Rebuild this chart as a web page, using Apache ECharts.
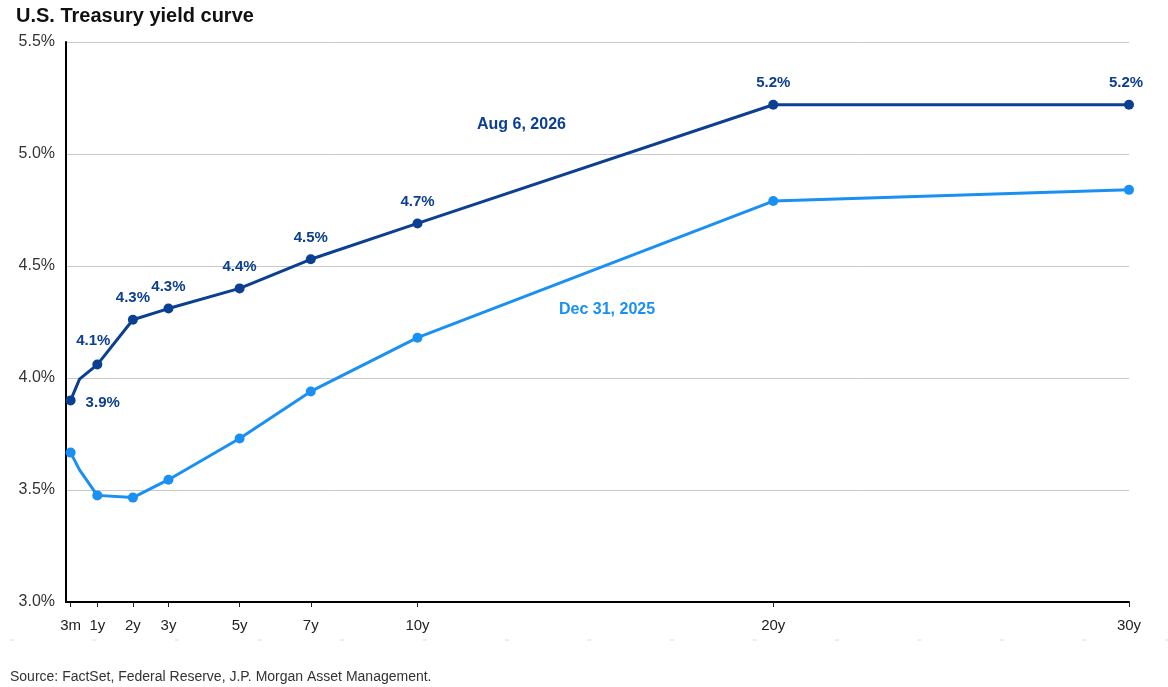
<!DOCTYPE html>
<html>
<head>
<meta charset="utf-8">
<script src="https://cdn.jsdelivr.net/npm/echarts@6/dist/echarts.min.js"></script>
<style>
html,body{margin:0;padding:0;background:#fff;}
#c{width:1168px;height:687px;}
</style>
</head>
<body>
<div id="c"></div>
<script>
// Maturities (years) and their tick labels
const maturities = [0.25, 0.5, 1, 2, 3, 5, 7, 10, 20, 30];
const tickValues = [0.25, 1, 2, 3, 5, 7, 10, 20, 30];
const tickLabels = ['3m', '1y', '2y', '3y', '5y', '7y', '10y', '20y', '30y'];
// Yields (%)
const aug2026 = [3.90, 3.995, 4.06, 4.26, 4.31, 4.40, 4.53, 4.69, 5.22, 5.22];
const dec2025 = [3.667, 3.59, 3.476, 3.466, 3.546, 3.73, 3.94, 4.18, 4.79, 4.84];
const seriesNames = ['Aug 6, 2026', 'Dec 31, 2025'];

const DARK = '#0b3f92';
const LIGHT = '#1a90f2';
const FONT = '"Liberation Sans", Arial, sans-serif';

const chart = echarts.init(document.getElementById('c'));

function darkData() {
  return maturities.map((m, i) => {
    const item = { value: [m, aug2026[i]] };
    if (m === 0.5) {
      item.symbolSize = 0;
      item.label = { show: false };
    } else if (m === 0.25) {
      item.label = { position: 'right', distance: 10, offset: [0, 2] };
    } else if (m === 1) {
      item.label = { offset: [-4, -2] };
    } else if (m === 30) {
      item.label = { offset: [-3, 0] };
    }
    return item;
  });
}
function lightData() {
  return maturities.map((m, i) => {
    const item = { value: [m, dec2025[i]] };
    if (m === 0.5) item.symbolSize = 0;
    return item;
  });
}

const tickLabelMap = {};
tickValues.forEach((v, i) => tickLabelMap[v] = tickLabels[i]);

chart.setOption({
  animation: false,
  backgroundColor: '#fff',
  textStyle: { fontFamily: FONT },
  title: {
    text: 'U.S. Treasury yield curve',
    left: 11, top: 1,
    textStyle: { fontFamily: FONT, fontSize: 20, fontWeight: 'bold', color: '#111' }
  },
  grid: { left: 66, right: 39, top: 42, bottom: 85, containLabel: false },
  xAxis: {
    type: 'value',
    min: 0.12, max: 30,
    splitLine: { show: false },
    axisLine: { show: true, lineStyle: { color: '#000', width: 2 } },
    axisTick: { show: true, customValues: tickValues, length: 5, lineStyle: { color: '#222', width: 1 } },
    axisLabel: {
      customValues: tickValues,
      formatter: v => tickLabelMap[v] || '',
      color: '#222', fontSize: 15, margin: 16, fontFamily: FONT
    }
  },
  yAxis: {
    type: 'value',
    min: 3, max: 5.5, interval: 0.5,
    axisLine: { show: true, lineStyle: { color: '#000', width: 2 } },
    axisTick: { show: false },
    splitLine: { show: true, lineStyle: { color: '#c8c8c8', width: 1 } },
    axisLabel: {
      formatter: v => v.toFixed(1) + '%',
      color: '#333', fontSize: 16, margin: 11, fontFamily: FONT
    }
  },
  series: [
    {
      name: seriesNames[1],
      type: 'line',
      data: lightData(),
      symbol: 'circle', symbolSize: 10,
      lineStyle: { color: LIGHT, width: 3 },
      itemStyle: { color: LIGHT },
      z: 2
    },
    {
      name: seriesNames[0],
      type: 'line',
      data: darkData(),
      symbol: 'circle', symbolSize: 10,
      lineStyle: { color: DARK, width: 3 },
      itemStyle: { color: DARK },
      label: {
        show: true, position: 'top', distance: 9,
        formatter: p => p.value[1].toFixed(1) + '%',
        color: DARK, fontSize: 15, fontWeight: 'bold', fontFamily: FONT
      },
      z: 3
    }
  ],
  graphic: [
    { type: 'text', left: 477, top: 117, style: { text: seriesNames[0], fill: DARK, font: 'bold 16px ' + FONT } },
    { type: 'text', left: 559, top: 302, style: { text: seriesNames[1], fill: LIGHT, font: 'bold 16px ' + FONT } },
    { type: 'line', shape: { x1: 10, y1: 640, x2: 1168, y2: 640 }, style: { stroke: '#dcdcdc', lineWidth: 1, lineDash: [4, 78.5] } },
    { type: 'text', left: 10, top: 670, style: { text: 'Source: FactSet, Federal Reserve, J.P. Morgan Asset Management.', fill: '#333', font: '14px ' + FONT } }
  ]
});
</script>
</body>
</html>
